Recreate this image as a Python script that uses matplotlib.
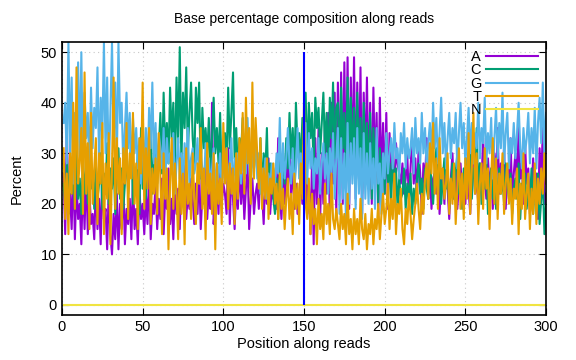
import numpy as np
import matplotlib
matplotlib.use('Agg')
from matplotlib import pyplot as plt

# percent of each base at every read position (1..300)
A_pct = [26,14,35,18,22,15,28,13,24,17, 20,12,25,15,27,14,22,16,18,13,
         24,15,21,12,26,17,19,11,23,14, 10,18,13,22,11,20,15,24,12,19,
         16,21,13,25,15,19,12,23,17,20, 14,22,16,26,13,20,18,24,15,21,
         17,25,14,22,19,27,16,21,13,24, 18,23,15,26,20,28,17,22,19,25,
         21,16,24,18,27,15,22,20,29,17, 23,19,40,16,21,25,18,30,20,24,
         22,18,31,16,27,21,15,24,19,28, 20,26,17,23,28,15,21,25,18,22,
         24,19,27,22,16,25,20,29,18,23, 21,26,19,33,22,17,25,20,28,23,
         31,22,27,19,24,18,21,26,20,25, 32,18,24,14,29,12,33,20,35,17,
         30,20,36,22,38,16,40,24,42,18, 44,22,46,20,48,24,49,19,45,26,
         49,21,44,25,47,18,42,27,45,23, 40,20,43,26,38,17,41,24,36,22,
         38,19,34,25,30,20,32,28,26,24, 28,22,25,30,20,27,33,24,29,21,
         31,26,18,28,24,33,21,27,19,25, 26,22,30,18,24,27,20,29,23,17,
         25,30,21,27,19,24,28,22,26,20, 29,23,18,27,31,22,25,20,28,24,
         33,25,21,29,23,27,19,30,24,35, 22,28,26,31,19,27,24,33,21,26,
         30,23,36,25,28,20,32,24,27,18, 22,29,21,26,17,31,24,35,20,22]
C_pct = [24,20,28,18,30,22,26,19,33,21, 25,18,29,22,27,20,31,23,26,19,
         28,21,24,30,19,26,22,32,20,27, 23,29,18,25,31,21,27,19,24,30,
         22,28,33,20,26,24,30,18,35,23, 27,21,32,25,37,22,29,34,24,31,
         38,26,42,30,36,28,43,33,40,27, 45,32,51,28,42,35,47,30,38,44,
         33,28,43,36,44,25,39,31,35,29, 37,27,33,41,30,35,28,38,25,32,
         34,27,43,31,38,46,29,35,26,33, 30,37,25,34,28,32,24,36,27,31,
         29,24,33,22,30,26,35,21,28,25, 21,18,25,17,28,22,30,24,33,27,
         38,29,35,26,40,31,34,28,37,30, 42,28,40,33,38,26,41,35,39,30,
         36,42,30,38,27,41,33,44,29,39, 40,26,43,31,38,24,45,30,41,27,
         39,24,42,28,37,22,40,26,36,23, 38,21,35,27,33,20,31,25,30,22,
         33,24,28,20,31,22,27,19,25,21, 22,27,19,24,21,26,18,23,20,25,
         28,22,25,19,27,23,21,30,24,20, 26,31,22,28,20,25,29,23,27,19,
         24,28,21,26,30,22,25,19,27,23, 29,24,33,21,27,25,35,22,28,20,
         26,23,29,18,24,27,21,25,19,23, 27,22,25,20,28,24,21,26,18,23,
         25,21,28,17,24,22,26,19,23,20, 27,18,24,22,26,16,21,25,14,20]
G_pct = [36,40,28,52,30,45,24,38,31,48, 29,50,27,42,33,38,26,43,31,39,
         35,47,28,41,33,52,30,45,26,38, 52,32,44,28,52,36,40,27,35,42,
         31,38,25,37,30,35,27,33,24,32, 29,35,26,39,31,44,28,36,25,34,
         31,27,35,24,33,28,30,26,34,22, 28,33,25,30,22,32,27,35,24,29,
         31,26,28,33,24,30,27,23,32,26, 29,24,27,31,22,28,25,30,23,27,
         26,31,24,28,33,22,29,25,30,27, 24,29,32,26,37,28,23,31,27,34,
         25,30,22,27,24,29,21,26,23,28, 27,24,30,26,37,22,32,25,29,35,
         28,24,31,23,27,35,25,30,22,26, 36,24,34,27,31,23,29,26,33,22,
         28,32,25,30,22,31,26,34,21,29, 35,18,33,21,30,17,36,20,32,24,
         33,19,35,22,31,17,34,21,30,20, 32,23,29,19,35,24,28,18,30,25,
         34,26,30,33,27,36,29,31,25,34, 30,36,27,33,29,31,35,26,37,30,
         33,28,38,30,35,27,32,36,29,40, 31,37,28,34,41,30,36,27,33,38,
         29,35,32,38,27,34,40,31,36,28, 33,39,30,36,28,34,31,40,29,35,
         32,41,28,34,30,37,25,33,39,29, 36,31,42,28,34,38,27,33,30,36,
         29,34,40,31,27,35,30,33,38,28, 35,30,39,27,36,41,32,44,29,38]
T_pct = [31,17,26,14,30,22,40,19,47,24, 28,35,18,46,22,32,15,38,20,27,
         33,16,30,24,36,14,28,21,34,12, 27,45,19,33,22,29,14,31,24,36,
         17,30,25,38,20,28,15,33,26,44, 19,31,23,35,16,27,22,29,18,34,
         25,14,30,21,27,11,24,33,19,28, 22,13,29,18,26,12,31,20,24,17,
         30,21,16,28,24,35,19,27,13,32, 22,26,18,30,11,28,20,25,16,36,
         24,31,19,28,22,27,16,30,21,33, 26,38,22,41,28,35,20,44,25,37,
         30,23,33,19,27,21,29,17,25,22, 28,20,24,17,26,19,23,15,21,25,
         17,22,14,26,19,24,16,28,21,40, 20,17,25,14,22,16,19,12,21,15,
         18,13,24,16,20,14,26,17,15,19, 16,13,20,15,18,12,22,14,17,11,
         19,14,17,12,21,15,13,18,11,16, 14,19,12,17,15,20,13,18,22,16,
         19,24,15,21,17,26,14,20,18,23, 15,12,19,16,22,18,13,17,20,24,
         19,15,22,18,25,28,21,32,26,36, 22,29,19,33,25,27,21,24,30,18,
         25,20,28,16,23,31,19,26,17,29, 21,34,18,27,38,22,30,16,24,28,
         19,31,23,27,15,25,33,20,29,17, 26,22,30,18,24,28,20,25,16,23,
         21,27,14,24,19,30,17,22,26,15, 23,18,28,16,25,20,27,22,30,24]
N_pct = [0] * 300

bases = ['A', 'C', 'G', 'T', 'N']
colors = ['#9400d3', '#009e73', '#56b4e9', '#e69f00', '#f0e442']
read_boundary = 150

plt.rcParams['font.family'] = ['Liberation Sans', 'DejaVu Sans']
plt.rcParams['font.size'] = 10.5

pos = np.arange(1, len(A_pct) + 1)

fig = plt.figure(figsize=(5.76, 3.6), dpi=100)
ax = fig.add_axes([0.1076, 0.125, 0.8404, 0.758])

for name, vals, col in zip(bases, [A_pct, C_pct, G_pct, T_pct, N_pct], colors):
    ax.plot(pos, vals, color=col, lw=1.5, label=name)

ax.vlines(read_boundary, 0, 50, color='#0000ff', lw=1.5)

ax.set_xlim(0, 300)
ax.set_ylim(-2, 52)
ax.set_xticks(range(0, 301, 50))
ax.set_yticks(range(0, 51, 10))
ax.grid(True, color='#c8c8c8', linestyle=(0, (1, 3)), lw=0.8)
ax.tick_params(direction='in', top=True, right=True, length=5)
for s in ax.spines.values():
    s.set_linewidth(1.2)

ax.set_title('Base percentage composition along reads', fontsize=10, pad=14)
ax.set_xlabel('Position along reads', labelpad=2)
ax.set_ylabel('Percent', labelpad=12)

leg = ax.legend(loc='upper right', markerfirst=False, frameon=False,
                handlelength=3.6, handletextpad=0.3, labelspacing=-0.05,
                borderaxespad=0.15, fontsize=10.5)
for t in leg.get_texts():
    t.set_ha('right')

fig.savefig('out.png', dpi=100)
